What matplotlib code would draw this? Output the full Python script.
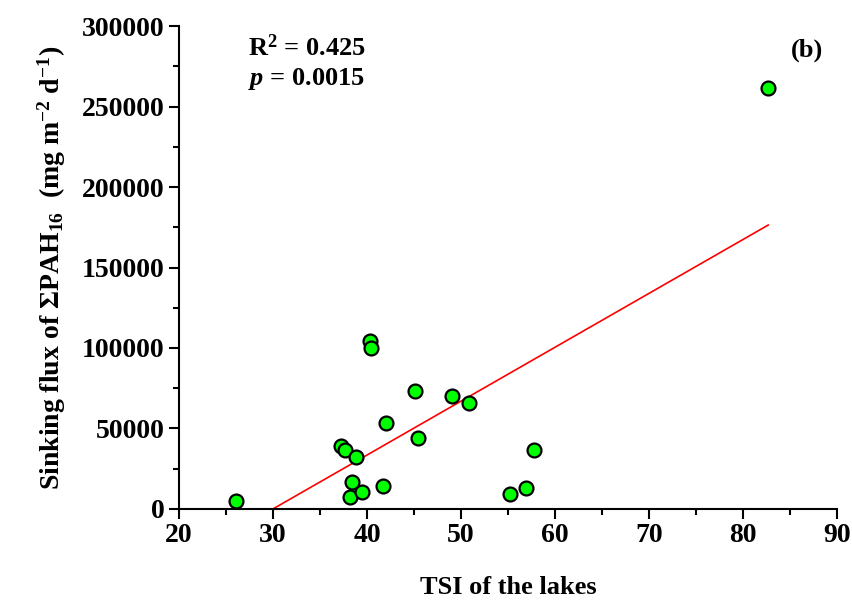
import numpy as np
import matplotlib
matplotlib.use("Agg")
import matplotlib.pyplot as plt
from matplotlib.ticker import MultipleLocator

# TSI of the lakes vs sinking flux of sum PAH16
tsi = [26.0, 37.2, 37.7, 38.8, 38.4, 38.2, 39.5, 40.3, 40.4, 41.7,
       42.0, 45.1, 45.4, 49.0, 50.9, 55.2, 56.9, 57.8, 82.7]
flux = [5000, 39100, 36600, 32300, 16800, 7500, 10600, 104300, 100000, 14300,
        53400, 73300, 44100, 70200, 65800, 9300, 13000, 36600, 261500]

# fitted line
fit_slope = 3347
fit_intercept = -100400
r2_text = "0.425"
p_text = "0.0015"

plt.rcParams["font.family"] = "Liberation Serif"
plt.rcParams["font.weight"] = "bold"
plt.rcParams["mathtext.fontset"] = "custom"
plt.rcParams["mathtext.rm"] = "Liberation Serif:bold"
plt.rcParams["mathtext.it"] = "Liberation Serif:bold:italic"
plt.rcParams["mathtext.bf"] = "Liberation Serif:bold"

fig = plt.figure(figsize=(8.53, 6.08), dpi=100)
ax = fig.add_axes([0.21, 0.163, 0.771, 0.794])

# Regression line
x_line = np.array([min(tsi), max(tsi)])
ax.plot(x_line, fit_slope * x_line + fit_intercept, color="red", linewidth=1.2, zorder=2)

# Data points
ax.scatter(tsi, flux, s=100, color="#00ff00", edgecolor="black", linewidth=1.6,
           zorder=3, clip_on=False)

ax.set_xlim(20, 90)
ax.set_ylim(0, 300000)
ax.xaxis.set_major_locator(MultipleLocator(10))
ax.xaxis.set_minor_locator(MultipleLocator(5))
ax.yaxis.set_major_locator(MultipleLocator(50000))
ax.yaxis.set_minor_locator(MultipleLocator(25000))

ax.spines["top"].set_visible(False)
ax.spines["right"].set_visible(False)
ax.spines["left"].set_linewidth(1.5)
ax.spines["bottom"].set_linewidth(1.5)
ax.tick_params(which="major", direction="out", length=7, width=1.5, labelsize=20)
ax.tick_params(which="minor", direction="out", length=4, width=1.5)
for lab in ax.get_xticklabels() + ax.get_yticklabels():
    lab.set_fontweight("bold")

ax.set_xlabel("TSI of the lakes", fontsize=19, fontweight="bold", labelpad=20)
ax.set_ylabel(r"Sinking flux of $\Sigma$PAH$_{16}$  (mg m$^{-2}$ d$^{-1}$)",
              fontsize=20, fontweight="bold", labelpad=10)

ax.text(0.105, 0.955, r"R$^{2}$ = " + r2_text, transform=ax.transAxes,
        fontsize=19, fontweight="bold", va="center")
ax.text(0.105, 0.89, r"$p$ = " + p_text, transform=ax.transAxes,
        fontsize=19, fontweight="bold", va="center")
ax.text(0.93, 0.95, "(b)", transform=ax.transAxes,
        fontsize=19, fontweight="bold", va="center")

fig.savefig("out.png", dpi=100)
